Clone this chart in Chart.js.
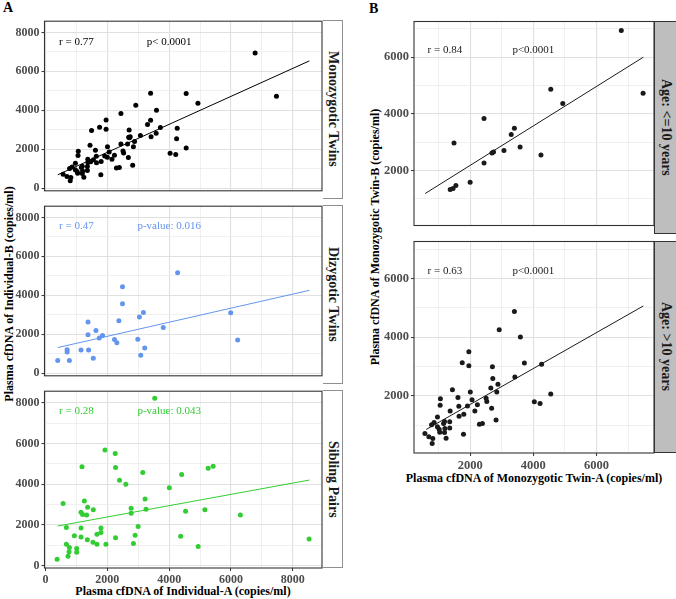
<!DOCTYPE html>
<html>
<head>
<meta charset="utf-8">
<script src="https://cdn.jsdelivr.net/npm/chart.js@4.4.1/dist/chart.umd.min.js"></script>
<style>
    html, body { margin: 0; padding: 0; background: #fff; }
    body {
        width: 676px; height: 599px; position: relative; overflow: hidden;
        font-family: "Liberation Serif", "Times New Roman", serif; color: #000;
    }
    .panel { position: absolute; }
    .strip {
        position: absolute; box-sizing: border-box;
        display: flex; align-items: center; justify-content: center;
        font-weight: bold; font-size: 14px; color: #1a1a1a;
    }
    .strip span { writing-mode: vertical-rl; white-space: nowrap; }
    .stripA { border: 1px solid #8f8f8f; border-left: none; background: #fff; }
    .stripB { border: 1px solid #333; border-right: none; background: #bebebe; }
    .ytitle, .xtitle {
        position: absolute; white-space: nowrap; font-weight: bold; font-size: 12px;
    }
    .ytitle { transform: translate(-50%, -50%) rotate(-90deg); }
    .xtitle { transform: translate(-50%, -50%); }
    .tag { position: absolute; font-weight: bold; font-size: 14px; }
</style>
</head>
<body>

<div class="tag" style="left:3px; top:0px;">A</div>
<div class="tag" style="left:369px; top:1px;">B</div>

<div class="strip stripA" style="left:323px; top:20px; width:20px; height:178.5px;"><span>Monozygotic Twins</span></div>
<div class="strip stripA" style="left:323px; top:205px; width:20px; height:178.5px;"><span>Dizygotic Twins</span></div>
<div class="strip stripA" style="left:323px; top:390px; width:20px; height:178px;"><span>Sibling Pairs</span></div>

<div class="strip stripB" style="left:654px; top:20.5px; width:22px; height:213px;"><span>Age: &lt;=10 years</span></div>
<div class="strip stripB" style="left:654px; top:240.5px; width:22px; height:212.5px;"><span>Age: &gt;10 years</span></div>

<div class="ytitle" style="left:9px; top:294px;">Plasma cfDNA of Individual-B (copies/ml)</div>
<div class="xtitle" style="left:183px; top:591px;">Plasma cfDNA of Individual-A (copies/ml)</div>
<div class="ytitle" style="left:375px; top:237px;">Plasma cfDNA of Monozygotic Twin-B (copies/ml)</div>
<div class="xtitle" style="left:534px; top:478px;">Plasma cfDNA of Monozygotic Twin-A (copies/ml)</div>

<script>
/* ==========================================
   Data (copies/ml)
========================================== */

// Monozygotic twins, age <= 10 years
const mzYoungX = [6780, 7470, 4550, 4930, 2440, 3400, 3300, 3580, 3070, 2740, 2690, 4240, 2440, 1490, 2000, 1550, 1460, 1370];
const mzYoungY = [6940, 4730, 4870, 4370, 3840, 3490, 3270, 2830, 2710, 2650, 2620, 2550, 2270, 2970, 1590, 1470, 1370, 1330];

// Monozygotic twins, age > 10 years
const mzOldX = [3400, 2920, 3590, 1960, 1750, 1960, 2705, 3716, 4260, 3415, 2717, 2880, 2654, 2843, 1440, 2005, 1060, 1615, 2060, 2506,
                2527, 1052, 1643, 1915, 2230, 1368, 1650, 1800, 2150, 2680, 967, 1190, 1160, 1355, 2294, 2389, 2820, 860, 965, 1020,
                1200, 1355, 780, 1040, 1190, 570, 695, 820, 1240, 1790, 800, 4030, 4212, 4550];
const mzOldY = [4880, 4260, 4010, 3510, 3135, 3030, 3000, 3125, 3080, 2645, 2595, 2400, 2275, 2136, 2210, 2136, 1905, 1950, 1870, 1920,
                1815, 1685, 1651, 1660, 1705, 1491, 1310, 1380, 1491, 1583, 1288, 1130, 1065, 1120, 1040, 1064, 1183, 1100, 950, 870,
                895, 915, 1020, 770, 760, 725, 610, 555, 565, 700, 385, 1805, 1742, 2070];

// Dizygotic twins
const dzX = [4273, 2490, 2490, 1375, 2373, 3038, 3167, 3810, 5991, 6216, 1375, 1632, 1845, 1739, 2232, 2309, 2985, 3210, 3081, 1149,
             1394, 699, 699, 1546, 396, 773];
const dzY = [5160, 4441, 3574, 2629, 2693, 2889, 3119, 2350, 3104, 1714, 1978, 2203, 1944, 1812, 1733, 1567, 1748, 1307, 930, 1195,
             1195, 1209, 1097, 769, 656, 656];

// Sibling pairs
const sibX = [3533, 1923, 2255, 2265, 1181, 2394, 2598, 3146, 4005, 4403, 5261, 5422, 3221, 3253, 2770, 2770, 4532, 5154, 6303, 8526,
              4938, 4371, 2996, 2899, 2844, 2265, 1794, 1794, 1665, 1536, 1665, 1955, 1353, 1149, 1149, 1149, 1201, 1330, 1362, 1256,
              1546, 569, 676, 934, 676, 773, 1009, 763, 1009, 730, 376];
const sibY = [8225, 5684, 5508, 4823, 4853, 4188, 3993, 4579, 3827, 4481, 4789, 4887, 3274, 2771, 2820, 2575, 2673, 2737, 2478, 1305,
              929, 1432, 1921, 1481, 1075, 1368, 1842, 1627, 1530, 1139, 1041, 1041, 1271, 1402, 1842, 2624, 2507, 2478, 2869, 3177,
              2737, 3045, 1872, 1466, 1041, 880, 831, 669, 651, 456, 310];

// Regression lines (end points)
const fitMzX = [396, 8535],  fitMzY = [696, 6539];
const fitDzX = [396, 8535],  fitDzY = [1322, 4260];
const fitSibX = [396, 8535], fitSibY = [1940, 4203];
const fitYoungX = [578, 7477], fitYoungY = [1189, 6000];
const fitOldX = [610, 7477],   fitOldY = [861, 5065];

// Axis ticks
const ticksA = [0, 2000, 4000, 6000, 8000];
const gridA = [0, 1000, 2000, 3000, 4000, 5000, 6000, 7000, 8000];
const ticksB = [2000, 4000, 6000];
const gridB = [1000, 2000, 3000, 4000, 5000, 6000, 7000];

const FONT = '"Liberation Serif", "Times New Roman", serif';


function pts(xs, ys) {
    return xs.map(function (x, i) {
        return { x: x, y: ys[i] };
    });
}

// frame around the panel + r / p annotations
const framePlugin = {
    id: 'frame',
    afterDatasetsDraw: function (chart, args, opts) {
        const ctx = chart.ctx;
        const a = chart.chartArea;
        ctx.save();
        ctx.font = '11px ' + FONT;
        ctx.textAlign = 'center';
        ctx.textBaseline = 'middle';
        (opts.notes || []).forEach(function (n) {
            ctx.fillStyle = opts.color;
            ctx.fillText(n.text, chart.scales.x.getPixelForValue(n.x), chart.scales.y.getPixelForValue(n.y));
        });
        ctx.strokeStyle = '#333333';
        ctx.lineWidth = 1.1;
        ctx.strokeRect(a.left, a.top, a.right - a.left, a.bottom - a.top);
        ctx.restore();
    }
};


function axis(min, max, grid, labels, fitSize, showTicks, fontSize, isX) {

    const conf = {
        type: 'linear',
        min: min,
        max: max,
        border: { display: false },
        afterBuildTicks: function (scale) {
            scale.ticks = grid.map(function (v) { return { value: v }; });
        },
        grid: {
            color: function (c) {
                return labels.includes(c.tick.value) ? '#e0e0e0' : '#ececec';
            },
            lineWidth: function (c) {
                return labels.includes(c.tick.value) ? 1.1 : 0.8;
            },
            drawTicks: showTicks,
            tickLength: 3,
            tickWidth: 1,
            tickColor: function (c) {
                return labels.includes(c.tick.value) ? '#333333' : 'rgba(0,0,0,0)';
            }
        },
        ticks: {
            display: showTicks,
            autoSkip: false,
            maxRotation: 0,
            padding: 2,
            color: '#4d4d4d',
            font: { family: FONT, size: fontSize, weight: 'bold' },
            callback: function (value) {
                return labels.includes(value) ? String(value) : '';
            }
        }
    };

    if (isX) {
        conf.afterFit = function (scale) { scale.height = fitSize; };
    } else {
        conf.afterFit = function (scale) { scale.width = fitSize; };
    }

    return conf;
}


function makePanel(cfg) {

    const box = cfg.box;
    const plot = cfg.plot;

    const wrap = document.createElement('div');
    wrap.className = 'panel';
    wrap.style.left = box[0] + 'px';
    wrap.style.top = box[1] + 'px';
    wrap.style.width = box[2] + 'px';
    wrap.style.height = box[3] + 'px';

    const canvas = document.createElement('canvas');
    wrap.appendChild(canvas);
    document.body.appendChild(wrap);

    const leftW = plot[0] - box[0];
    const topPad = plot[1] - box[1];
    const rightPad = box[0] + box[2] - plot[2];
    const bottomH = box[1] + box[3] - plot[3];

    new Chart(canvas, {

        type: 'scatter',

        data: {
            datasets: [
                {
                    type: 'line',
                    data: pts(cfg.fitX, cfg.fitY),
                    borderColor: cfg.color,
                    borderWidth: 1,
                    pointRadius: 0,
                    fill: false,
                    tension: 0
                },
                {
                    type: 'scatter',
                    data: pts(cfg.xs, cfg.ys),
                    backgroundColor: cfg.color,
                    borderWidth: 0,
                    pointRadius: 2.5
                }
            ]
        },

        options: {
            responsive: true,
            maintainAspectRatio: false,
            animation: false,
            events: [],
            layout: {
                autoPadding: false,
                padding: { top: topPad, right: rightPad, bottom: 0, left: 0 }
            },
            plugins: {
                legend: { display: false },
                tooltip: { enabled: false },
                frame: { notes: cfg.notes, color: cfg.color }
            },
            scales: {
                x: axis(cfg.xMin, cfg.xMax, cfg.xGrid, cfg.xTicks, bottomH, cfg.showX, cfg.fontSize, true),
                y: axis(cfg.yMin, cfg.yMax, cfg.yGrid, cfg.yTicks, leftW, true, cfg.fontSize, false)
            }
        },

        plugins: [framePlugin]
    });
}


/* ==========================================
   Panel A
========================================== */

const aShared = {
    xMin: -32, xMax: 8943, yMin: -125, yMax: 8575,
    xGrid: gridA, xTicks: ticksA, yGrid: gridA, yTicks: ticksA,
    fontSize: 12
};

makePanel(Object.assign({}, aShared, {
    box: [0, 12, 323, 188], plot: [44.5, 20, 322, 198.5], showX: false,
    xs: mzYoungX.concat(mzOldX), ys: mzYoungY.concat(mzOldY),
    fitX: fitMzX, fitY: fitMzY, color: '#000000',
    notes: [{ text: 'r = 0.77', x: 1000, y: 7500 }, { text: 'p< 0.0001', x: 4000, y: 7500 }]
}));

makePanel(Object.assign({}, aShared, {
    box: [0, 197, 323, 188], plot: [44.5, 205, 322, 383.5], showX: false,
    xs: dzX, ys: dzY, fitX: fitDzX, fitY: fitDzY, color: '#6495ED',
    notes: [{ text: 'r = 0.47', x: 1000, y: 7550 }, { text: 'p-value: 0.016', x: 4000, y: 7550 }]
}));

makePanel(Object.assign({}, aShared, {
    box: [0, 382, 323, 206], plot: [44.5, 390, 322, 568], showX: true,
    xs: sibX, ys: sibY, fitX: fitSibX, fitY: fitSibY, color: '#32CD32',
    notes: [{ text: 'r = 0.28', x: 1000, y: 7600 }, { text: 'p-value: 0.043', x: 4000, y: 7600 }]
}));


/* ==========================================
   Panel B
========================================== */

const bShared = {
    xMin: 225, xMax: 7815, yMin: 60, yMax: 7260,
    xGrid: gridB, xTicks: ticksB, yGrid: gridB, yTicks: ticksB,
    fontSize: 12.5, color: '#1a1a1a'
};

makePanel(Object.assign({}, bShared, {
    box: [378, 12, 277, 223], plot: [414, 20.5, 654, 233.5], showX: false,
    xs: mzYoungX, ys: mzYoungY, fitX: fitYoungX, fitY: fitYoungY,
    notes: [{ text: 'r = 0.84', x: 1200, y: 6250 }, { text: 'p<0.0001', x: 4000, y: 6250 }]
}));

makePanel(Object.assign({}, bShared, {
    box: [378, 232, 277, 240], plot: [414, 240.5, 654, 453], showX: true,
    xs: mzOldX, ys: mzOldY, fitX: fitOldX, fitY: fitOldY,
    notes: [{ text: 'r = 0.63', x: 1200, y: 6250 }, { text: 'p<0.0001', x: 4000, y: 6250 }]
}));
</script>
</body>
</html>
